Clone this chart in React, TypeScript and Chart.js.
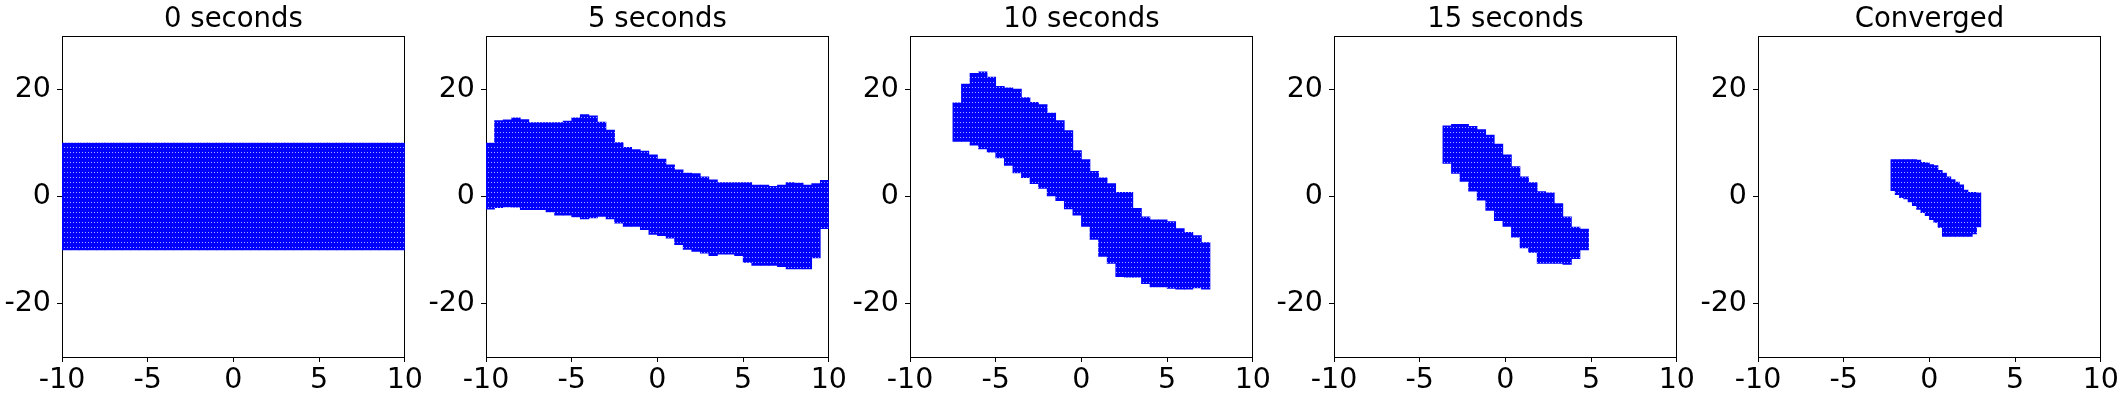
import React, { useEffect, useRef } from "react";
import { Chart, registerables } from "chart.js";

Chart.register(...registerables);

// ---------- data ----------
const panelTitles = ["0 seconds", "5 seconds", "10 seconds", "15 seconds", "Converged"];
const xTickValues = [-10, -5, 0, 5, 10];
const xTickLabels = ["-10", "-5", "0", "5", "10"];
const yTickValues = [-20, 0, 20];
const yTickLabels = ["-20", "0", "20"];
const xRange = [-10, 10];
const yRange = [-30, 30];

// column centres (x) and the top / bottom of the filled point cloud in each column
const p1X = [-9.75, -9.25, -8.75, -8.25, -7.75, -7.25, -6.75, -6.25, -5.75, -5.25, -4.75, -4.25, -3.75, -3.25, -2.75, -2.25, -1.75, -1.25, -0.75, -0.25, 0.25, 0.75, 1.25, 1.75, 2.25, 2.75, 3.25, 3.75, 4.25, 4.75, 5.25, 5.75, 6.25, 6.75, 7.25, 7.75, 8.25, 8.75, 9.25, 9.75];
const p1Top = [10, 10, 10, 10, 10, 10, 10, 10, 10, 10, 10, 10, 10, 10, 10, 10, 10, 10, 10, 10, 10, 10, 10, 10, 10, 10, 10, 10, 10, 10, 10, 10, 10, 10, 10, 10, 10, 10, 10, 10];
const p1Bottom = [-10, -10, -10, -10, -10, -10, -10, -10, -10, -10, -10, -10, -10, -10, -10, -10, -10, -10, -10, -10, -10, -10, -10, -10, -10, -10, -10, -10, -10, -10, -10, -10, -10, -10, -10, -10, -10, -10, -10, -10];

const p2X = [-9.75, -9.25, -8.75, -8.25, -7.75, -7.25, -6.75, -6.25, -5.75, -5.25, -4.75, -4.25, -3.75, -3.25, -2.75, -2.25, -1.75, -1.25, -0.75, -0.25, 0.25, 0.75, 1.25, 1.75, 2.25, 2.75, 3.25, 3.75, 4.25, 4.75, 5.25, 5.75, 6.25, 6.75, 7.25, 7.75, 8.25, 8.75, 9.25, 9.75];
const p2Top = [10.0, 14.2, 14.35, 14.7, 14.4, 13.8, 13.8, 13.8, 13.8, 14.1, 14.7, 15.3, 15.1, 13.9, 12.4, 10.1, 9.2, 8.75, 8.5, 7.8, 7.0, 5.9, 5.0, 4.4, 4.3, 3.7, 3.1, 2.6, 2.6, 2.6, 2.6, 2.15, 2.15, 1.9, 2.15, 2.6, 2.5, 2.15, 2.4, 3.0];
const p2Bottom = [-2.35, -2.1, -1.97, -2.0, -2.47, -2.47, -2.47, -2.9, -3.5, -3.5, -3.8, -4.2, -4.0, -3.7, -4.2, -5.0, -5.6, -5.6, -6.2, -7.1, -7.3, -7.8, -9.0, -9.9, -10.25, -10.6, -11.05, -10.8, -10.8, -11.05, -12.3, -12.9, -12.9, -12.9, -13.1, -13.55, -13.55, -13.55, -11.5, -6.0];

const p3X = [-7.25, -6.75, -6.25, -5.75, -5.25, -4.75, -4.25, -3.75, -3.25, -2.75, -2.25, -1.75, -1.25, -0.75, -0.25, 0.25, 0.75, 1.25, 1.75, 2.25, 2.75, 3.25, 3.75, 4.25, 4.75, 5.25, 5.75, 6.25, 6.75, 7.25];
const p3Top = [17.5, 21.0, 23.0, 23.3, 22.3, 20.6, 20.3, 20.1, 18.5, 17.6, 17.2, 15.6, 14.2, 12.3, 8.6, 6.9, 4.7, 3.5, 2.4, 0.77, 0.77, -2.2, -3.8, -4.35, -4.35, -4.7, -6.0, -6.7, -7.3, -8.6];
const p3Bottom = [10.3, 10.3, 9.6, 8.9, 8.3, 7.2, 5.8, 4.4, 3.5, 2.4, 1.5, 0.1, -0.8, -2.3, -3.5, -5.6, -8.0, -11.2, -12.5, -15.0, -15.1, -15.1, -16.3, -16.9, -16.9, -17.2, -17.3, -17.3, -17.1, -17.3];

const p4X = [-3.4, -2.9, -2.4, -1.9, -1.4, -0.9, -0.4, 0.1, 0.6, 1.1, 1.6, 2.1, 2.6, 3.1, 3.6, 4.1, 4.6];
const p4Top = [13.2, 13.5, 13.5, 13.1, 12.5, 11.5, 9.8, 7.8, 5.6, 3.7, 2.6, 0.9, 0.7, -1.3, -3.8, -5.7, -6.1];
const p4Bottom = [6.2, 4.3, 2.8, 1.0, -0.7, -2.6, -4.5, -5.6, -7.6, -9.6, -10.45, -12.5, -12.5, -12.5, -12.7, -11.6, -10.0];

const p5X = [-2.125, -1.875, -1.625, -1.375, -1.125, -0.875, -0.625, -0.375, -0.125, 0.125, 0.375, 0.625, 0.875, 1.125, 1.375, 1.625, 1.875, 2.125, 2.375, 2.625, 2.875];
const p5Top = [6.9, 6.9, 6.9, 6.9, 6.9, 6.9, 6.8, 6.4, 6.3, 5.95, 5.8, 4.9, 4.4, 3.7, 3.15, 2.7, 2.2, 1.2, 0.77, 0.77, 0.7];
const p5Bottom = [1.1, 0.35, -0.2, -0.47, -1.0, -1.7, -2.4, -3.0, -3.6, -4.35, -4.85, -5.8, -7.45, -7.45, -7.45, -7.45, -7.45, -7.45, -7.45, -7.0, -5.7];

const panelXs = [p1X, p2X, p3X, p4X, p5X];
const panelTops = [p1Top, p2Top, p3Top, p4Top, p5Top];
const panelBottoms = [p1Bottom, p2Bottom, p3Bottom, p4Bottom, p5Bottom];

// ---------- layout / style ----------
const CANVAS_W = 424;
const CANVAS_H = 400;
const PANEL_LEFTS = [0, 424, 848, 1272, 1696];
const Y_AXIS_W = 62;
const RIGHT_PAD = 18;
const X_AXIS_H = 43;
const FONT = "'DejaVu Sans', 'Liberation Sans', sans-serif";
const BLUE = "#0000ff";
const DOT = "#a8a8ff";
const TICK_SIZE = 28.5;
const TITLE_SIZE = 27.5;

function makeFill(ctx: CanvasRenderingContext2D): CanvasPattern | string {
  const tile = document.createElement("canvas");
  tile.width = 6;
  tile.height = 5;
  const t = tile.getContext("2d");
  if (!t) return BLUE;
  t.fillStyle = BLUE;
  t.fillRect(0, 0, 6, 5);
  t.fillStyle = DOT;
  t.fillRect(1, 2, 1, 1);
  t.fillRect(4, 2, 1, 1);
  return ctx.createPattern(tile, "repeat") || BLUE;
}

function Panel({ index }: { index: number }) {
  const ref = useRef<HTMLCanvasElement | null>(null);

  useEffect(() => {
    const canvas = ref.current;
    if (!canvas) return;
    const ctx = canvas.getContext("2d");
    if (!ctx) return;
    const xs = panelXs[index];
    const tops = panelTops[index];
    const bottoms = panelBottoms[index];
    const data = xs.map((x, i) => ({ x, y: [bottoms[i], tops[i]] }));
    const fill = makeFill(ctx);

    const tickGrid = {
      display: true,
      drawOnChartArea: false,
      drawTicks: true,
      tickLength: 5,
      color: "#000",
      lineWidth: 1,
      offset: false,
    };

    const chart = new Chart(canvas, {
      type: "bar",
      data: {
        datasets: [
          {
            data: data as any,
            backgroundColor: fill as any,
            borderWidth: 0,
            barPercentage: 1,
            categoryPercentage: 1,
          },
        ],
      },
      options: {
        animation: false,
        responsive: false,
        events: [],
        layout: { padding: { left: 0, right: RIGHT_PAD, top: 0, bottom: 0 } },
        plugins: {
          legend: { display: false },
          tooltip: { enabled: false },
          title: {
            display: true,
            fullSize: false,
            align: "center",
            text: panelTitles[index],
            color: "#000",
            font: { family: FONT, size: TITLE_SIZE, weight: "normal", lineHeight: 1.2 },
            padding: { top: 3, bottom: 0 },
          },
        },
        scales: {
          x: {
            type: "linear",
            position: "bottom",
            min: xRange[0],
            max: xRange[1],
            offset: false,
            afterBuildTicks: (axis: any) => {
              axis.ticks = xTickValues.map((v) => ({ value: v }));
            },
            afterFit: (s: any) => {
              s.height = X_AXIS_H;
            },
            ticks: {
              color: "#000",
              font: { family: FONT, size: TICK_SIZE },
              padding: 1,
              maxRotation: 0,
              autoSkip: false,
              callback: (v: any) => {
                const i = xTickValues.indexOf(Number(v));
                return i >= 0 ? xTickLabels[i] : "";
              },
            },
            grid: tickGrid,
            border: { display: true, color: "#000", width: 1 },
          },
          x2: {
            type: "linear",
            position: "top",
            min: xRange[0],
            max: xRange[1],
            ticks: { display: false },
            grid: { display: false },
            border: { display: true, color: "#000", width: 1 },
            afterFit: (s: any) => {
              s.height = 0;
            },
          },
          y: {
            type: "linear",
            position: "left",
            min: yRange[0],
            max: yRange[1],
            afterBuildTicks: (axis: any) => {
              axis.ticks = yTickValues.map((v) => ({ value: v }));
            },
            afterFit: (s: any) => {
              s.width = Y_AXIS_W;
            },
            ticks: {
              color: "#000",
              font: { family: FONT, size: TICK_SIZE },
              padding: 6,
              autoSkip: false,
              callback: (v: any) => {
                const i = yTickValues.indexOf(Number(v));
                return i >= 0 ? yTickLabels[i] : "";
              },
            },
            grid: tickGrid,
            border: { display: true, color: "#000", width: 1 },
          },
          y2: {
            type: "linear",
            position: "right",
            min: yRange[0],
            max: yRange[1],
            ticks: { display: false },
            grid: { display: false },
            border: { display: true, color: "#000", width: 1 },
            afterFit: (s: any) => {
              s.width = 0;
            },
          },
        },
      } as any,
    });
    return () => chart.destroy();
  }, [index]);

  return (
    <canvas
      ref={ref}
      width={CANVAS_W}
      height={CANVAS_H}
      style={{
        position: "absolute",
        left: PANEL_LEFTS[index],
        top: 0,
        width: CANVAS_W,
        height: CANVAS_H,
      }}
    />
  );
}

export default function App() {
  return (
    <div
      style={{
        position: "absolute",
        left: 0,
        top: 0,
        width: 2125,
        height: 400,
        background: "#fff",
        overflow: "hidden",
      }}
    >
      {panelTitles.map((_, i) => (
        <Panel key={i} index={i} />
      ))}
    </div>
  );
}
